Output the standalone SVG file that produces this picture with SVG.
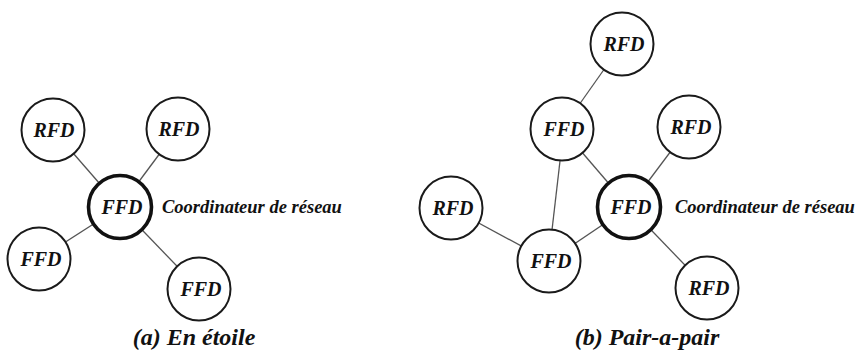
<svg xmlns="http://www.w3.org/2000/svg" width="856" height="351" viewBox="0 0 856 351">
  <style>
    .node { fill: #ffffff; stroke: #1a1a1a; stroke-width: 2; }
    .coord { fill: #ffffff; stroke: #111111; stroke-width: 3.6; }
    .link { stroke: #555555; stroke-width: 1.3; fill: none; }
    .lbl { font-family: "Liberation Serif", "Times New Roman", serif; font-style: italic; font-weight: bold; font-size: 20px; fill: #111111; text-anchor: middle; }
    .note { font-family: "Liberation Serif", "Times New Roman", serif; font-style: italic; font-weight: bold; font-size: 18.5px; fill: #111111; }
    .cap { font-family: "Liberation Serif", "Times New Roman", serif; font-style: italic; font-weight: bold; font-size: 24px; fill: #111111; text-anchor: middle; }
  </style>
  <rect width="856" height="351" fill="#ffffff"/>

  <!-- (a) star topology: links -->
  <g id="links-star">
    <line class="link" x1="53" y1="130" x2="120" y2="207"/>
    <line class="link" x1="178" y1="129" x2="120" y2="207"/>
    <line class="link" x1="39" y1="259" x2="120" y2="207"/>
    <line class="link" x1="199" y1="289" x2="120" y2="207"/>
  </g>

  <!-- (a) star topology: nodes -->
  <g id="a-rfd-1"><circle class="node" cx="53" cy="130" r="31.5"/><text class="lbl" x="54" y="137">RFD</text></g>
  <g id="a-rfd-2"><circle class="node" cx="178" cy="129" r="31.5"/><text class="lbl" x="179" y="136">RFD</text></g>
  <g id="a-coord"><circle class="coord" cx="120" cy="207" r="31.5"/><text class="lbl" x="122" y="214">FFD</text></g>
  <g id="a-ffd-1"><circle class="node" cx="39" cy="259" r="31.5"/><text class="lbl" x="41" y="266">FFD</text></g>
  <g id="a-ffd-2"><circle class="node" cx="199" cy="289" r="31.5"/><text class="lbl" x="201" y="296">FFD</text></g>
  <text class="note" x="162" y="213">Coordinateur de réseau</text>
  <text class="cap" x="194" y="345">(a) En étoile</text>

  <!-- (b) peer-to-peer topology: links -->
  <g id="links-mesh">
    <line class="link" x1="622" y1="44" x2="562" y2="129"/>
    <line class="link" x1="562" y1="129" x2="629" y2="207"/>
    <line class="link" x1="560" y1="161" x2="552" y2="230"/>
    <line class="link" x1="689" y1="127" x2="629" y2="207"/>
    <line class="link" x1="451" y1="208" x2="549" y2="261"/>
    <line class="link" x1="549" y1="261" x2="629" y2="207"/>
    <line class="link" x1="629" y1="207" x2="707" y2="288"/>
  </g>

  <!-- (b) peer-to-peer topology: nodes -->
  <g id="b-rfd-top"><circle class="node" cx="622" cy="44" r="31.5"/><text class="lbl" x="624" y="51">RFD</text></g>
  <g id="b-ffd-mid"><circle class="node" cx="562" cy="129" r="31.5"/><text class="lbl" x="564" y="136">FFD</text></g>
  <g id="b-rfd-right"><circle class="node" cx="689" cy="127" r="31.5"/><text class="lbl" x="691" y="134">RFD</text></g>
  <g id="b-rfd-left"><circle class="node" cx="451" cy="208" r="31.5"/><text class="lbl" x="453" y="215">RFD</text></g>
  <g id="b-ffd-low"><circle class="node" cx="549" cy="261" r="31.5"/><text class="lbl" x="551" y="268">FFD</text></g>
  <g id="b-coord"><circle class="coord" cx="629" cy="207" r="31.5"/><text class="lbl" x="631" y="214">FFD</text></g>
  <g id="b-rfd-low"><circle class="node" cx="707" cy="288" r="31.5"/><text class="lbl" x="709" y="295">RFD</text></g>
  <text class="note" x="675" y="213">Coordinateur de réseau</text>
  <text class="cap" x="647" y="345">(b) Pair-a-pair</text>
</svg>
